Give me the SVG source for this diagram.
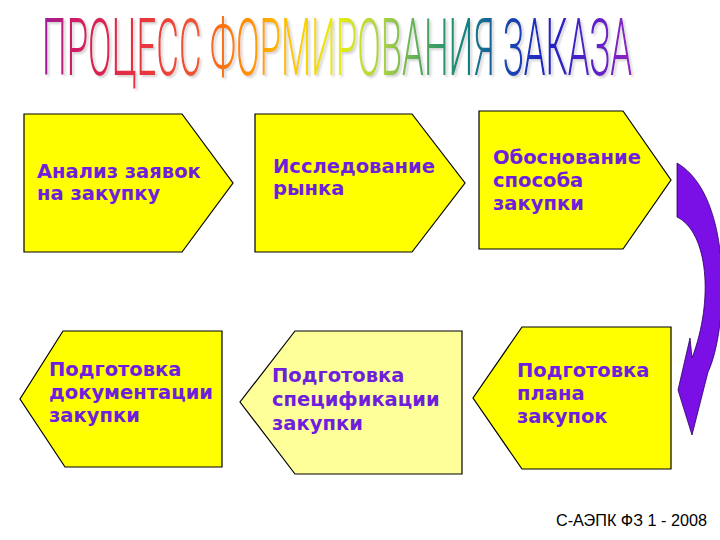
<svg xmlns="http://www.w3.org/2000/svg" width="720" height="540" viewBox="0 0 720 540">
<defs>
<linearGradient id="rainbow" gradientUnits="userSpaceOnUse" x1="42" y1="0" x2="632" y2="0">
<stop offset="0" stop-color="#9a1a9a"/>
<stop offset="0.06" stop-color="#d41a62"/>
<stop offset="0.16" stop-color="#e83040"/>
<stop offset="0.27" stop-color="#f05a30"/>
<stop offset="0.33" stop-color="#ff8400"/>
<stop offset="0.42" stop-color="#ffc400"/>
<stop offset="0.5" stop-color="#e8ee10"/>
<stop offset="0.58" stop-color="#a8d048"/>
<stop offset="0.66" stop-color="#40a060"/>
<stop offset="0.72" stop-color="#108480"/>
<stop offset="0.79" stop-color="#1848b0"/>
<stop offset="0.86" stop-color="#2020c4"/>
<stop offset="0.94" stop-color="#6020c8"/>
<stop offset="1" stop-color="#9020c0"/>
</linearGradient>
<filter id="tshadow" x="-5%" y="-20%" width="110%" height="140%">
<feDropShadow dx="2" dy="2" stdDeviation="0.8" flood-color="#c8c8c8" flood-opacity="0.8"/>
</filter>
</defs>
<style>
.box{fill:#ffff00;stroke:#000;stroke-width:1.2;stroke-linejoin:miter}
.pale{fill:#ffff99}
.lbl{font-family:"DejaVu Sans","Liberation Sans",sans-serif;font-weight:bold;font-size:19.5px;fill:#6e1edc}
.title{font-family:Roboto,"Open Sans","Liberation Sans",sans-serif;font-weight:300;font-size:32px;fill:url(#rainbow)}
.foot{font-family:"Liberation Sans",Arial,sans-serif;font-size:17px;fill:#000}
.arrow{fill:#7a10e6;stroke:#2a0060;stroke-width:0.8}
</style>
<rect width="720" height="540" fill="#fff"/>

<g id="title" filter="url(#tshadow)">
<text class="title" x="42" y="0" textLength="590" lengthAdjust="spacingAndGlyphs" transform="translate(0,75) scale(1,2.5)">ПРОЦЕСС ФОРМИРОВАНИЯ ЗАКАЗА</text>
</g>

<g id="connectors">
<path class="arrow" d="M677,163 C734,196 728,330 708,372 L692,435 L678,390 L690,338 L692,358 C714,300 708,232 677,217 Z"/>
</g>

<g id="node-analiz">
<polygon class="box" points="24,114 182,114 233,183 182,252 24,252"/>
<text class="lbl" x="37" y="178">Анализ заявок</text>
<text class="lbl" x="37" y="200">на закупку</text>
</g>

<g id="node-issled">
<polygon class="box" points="255,114 412,114 465,183 412,252 255,252"/>
<text class="lbl" x="273" y="173">Исследование</text>
<text class="lbl" x="273" y="195">рынка</text>
</g>

<g id="node-obosn">
<polygon class="box" points="479,111 623,111 671,180 623,249 479,249"/>
<text class="lbl" x="493" y="164">Обоснование</text>
<text class="lbl" x="493" y="187">способа</text>
<text class="lbl" x="493" y="210">закупки</text>
</g>

<g id="node-plan">
<polygon class="box" points="522,327 671,327 671,469 522,469 473,398"/>
<text class="lbl" x="517" y="377">Подготовка</text>
<text class="lbl" x="517" y="400">плана</text>
<text class="lbl" x="517" y="423">закупок</text>
</g>

<g id="node-spec">
<polygon class="box pale" points="295,331 462,331 462,474 295,474 240,402"/>
<text class="lbl" x="272" y="382">Подготовка</text>
<text class="lbl" x="272" y="406">спецификации</text>
<text class="lbl" x="272" y="430">закупки</text>
</g>

<g id="node-doc">
<polygon class="box" points="63,331 222,331 222,467 65,467 20,399"/>
<text class="lbl" x="49" y="376">Подготовка</text>
<text class="lbl" x="49" y="399">документации</text>
<text class="lbl" x="49" y="422">закупки</text>
</g>

<g id="footer">
<text class="foot" x="556" y="526" textLength="151" lengthAdjust="spacingAndGlyphs">С-АЭПК ФЗ 1 - 2008</text>
</g>
</svg>
